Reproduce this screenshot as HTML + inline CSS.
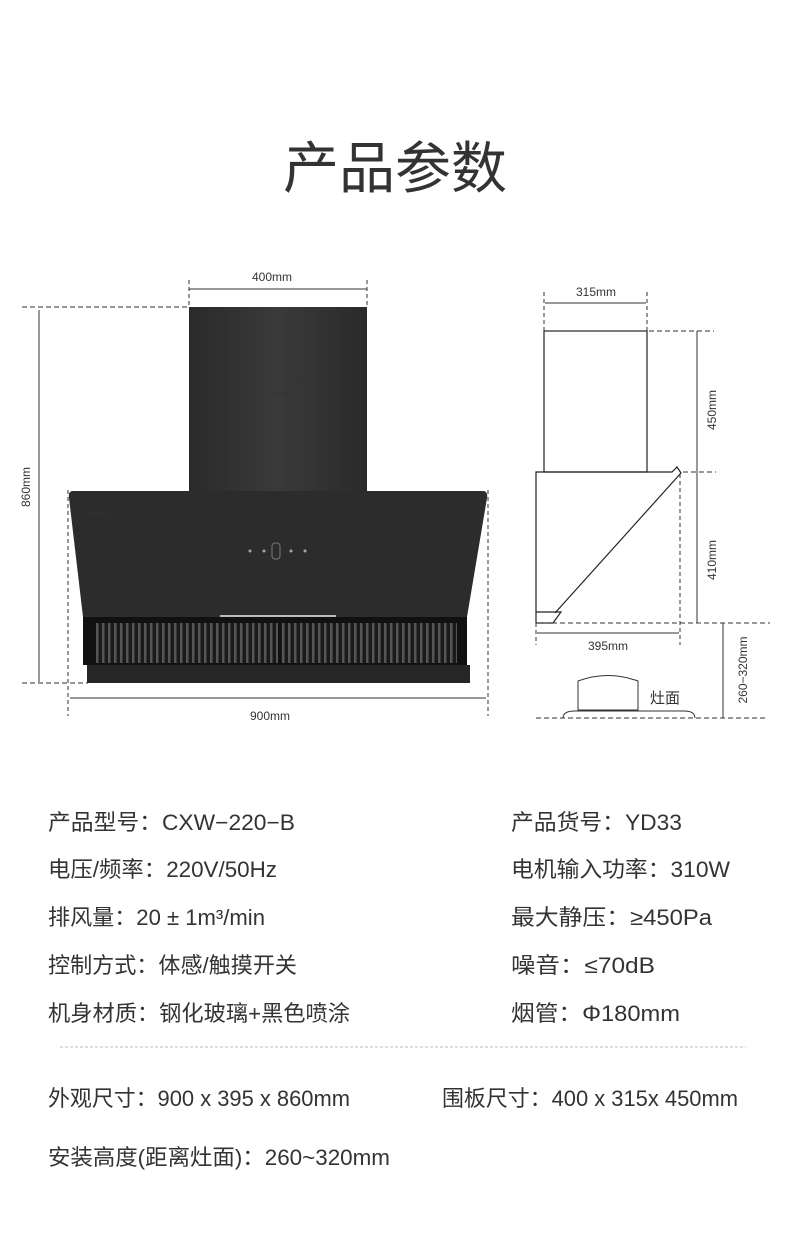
<!DOCTYPE html>
<html><head><meta charset="utf-8"><style>
html,body{margin:0;padding:0;background:#fff;}
svg{display:block;}
text{font-family:"Liberation Sans","Noto Sans CJK SC",sans-serif;fill:#333;}
</style></head><body>
<svg width="790" height="1243" viewBox="0 0 790 1243" xmlns="http://www.w3.org/2000/svg">
<defs>
<linearGradient id="g1" x1="0" y1="0" x2="1" y2="0"><stop offset="0" stop-color="#2a2a2a"/><stop offset="0.5" stop-color="#3a3a3a"/><stop offset="1" stop-color="#2a2a2a"/></linearGradient>
<pattern id="slat" width="6" height="40" patternUnits="userSpaceOnUse"><rect width="6" height="40" fill="#1a1a1a"/><rect x="0" width="2.5" height="40" fill="#555"/></pattern>
</defs>
<text x="395" y="188" font-size="56" text-anchor="middle" fill="#222">产品参数</text>

<!-- front view dims -->
<g stroke="#333" stroke-width="1" fill="none">
<line x1="189" y1="289" x2="367" y2="289"/>
<line x1="189" y1="280" x2="189" y2="307" stroke-dasharray="4,3"/>
<line x1="367" y1="280" x2="367" y2="307" stroke-dasharray="4,3"/>
<line x1="22" y1="307" x2="189" y2="307" stroke-dasharray="5,3"/>
<line x1="22" y1="683" x2="88" y2="683" stroke-dasharray="5,3"/>
<line x1="39" y1="310" x2="39" y2="682"/>
<line x1="68" y1="490" x2="68" y2="716" stroke-dasharray="4,3"/>
<line x1="488" y1="490" x2="488" y2="716" stroke-dasharray="4,3"/>
<line x1="70" y1="698" x2="486" y2="698"/>
</g>
<text x="272" y="281" font-size="12" text-anchor="middle">400mm</text>
<text x="270" y="720" font-size="12" text-anchor="middle">900mm</text>
<text transform="translate(30,487) rotate(-90)" font-size="12" text-anchor="middle">860mm</text>

<!-- hood -->
<rect x="189" y="307" width="178" height="186" fill="url(#g1)"/>
<text x="280" y="397" font-size="7" fill="#bbb" text-anchor="middle">YOUJIA</text>
<path d="M72 491 L484 491 Q488 492 487 498 L467 617 L83 617 L69 498 Q68 492 72 491 Z" fill="#2c2c2c"/>
<text x="88" y="516" font-size="6" fill="#ccc">YOUJIA</text>
<g fill="#9ab">
<circle cx="250" cy="551" r="1.5"/><circle cx="264" cy="551" r="1.5"/><rect x="272" y="543" width="8" height="16" rx="3" fill="none" stroke="#777"/><circle cx="291" cy="551" r="1.5"/><circle cx="305" cy="551" r="1.5"/>
</g>
<rect x="220" y="615" width="116" height="3" fill="#bbb"/>
<rect x="83" y="617" width="384" height="48" fill="#111"/>
<rect x="96" y="623" width="182" height="40" fill="url(#slat)"/>
<rect x="281" y="623" width="176" height="40" fill="url(#slat)"/>
<rect x="87" y="665" width="383" height="18" fill="#262626"/>

<!-- side view -->
<g stroke="#222" stroke-width="1.2" fill="none">
<rect x="544" y="331" width="103" height="141"/>
<path d="M536 623 L536 472 L672 472 L677 467 L681 473 L555 613"/>
<path d="M536 612 L561 612 L553 623 L536 623"/>
</g>
<g stroke="#333" stroke-width="1" fill="none">
<line x1="544" y1="292" x2="544" y2="331" stroke-dasharray="4,3"/>
<line x1="647" y1="292" x2="647" y2="331" stroke-dasharray="4,3"/>
<line x1="545" y1="303" x2="646" y2="303"/>
<line x1="649" y1="331" x2="714" y2="331" stroke-dasharray="5,3"/>
<line x1="683" y1="472" x2="716" y2="472" stroke-dasharray="5,3"/>
<line x1="697" y1="331" x2="697" y2="623"/>
<line x1="536" y1="623" x2="770" y2="623" stroke-dasharray="5,3"/>
<line x1="680" y1="474" x2="680" y2="645" stroke-dasharray="4,3"/>
<line x1="536" y1="623" x2="536" y2="645" stroke-dasharray="4,3"/>
<line x1="537" y1="633" x2="679" y2="633"/>
<line x1="723" y1="623" x2="723" y2="718"/>
<line x1="536" y1="718" x2="766" y2="718" stroke-dasharray="5,3"/>
<path d="M578 710 L578 681 Q608 670 638 681 L638 710 Z"/>
<path d="M563 718 Q563 711 575 711 L684 711 Q695 711 695 718"/>
</g>
<text x="596" y="296" font-size="12" text-anchor="middle">315mm</text>
<text x="608" y="650" font-size="12" text-anchor="middle">395mm</text>
<text transform="translate(716,410) rotate(-90)" font-size="12" text-anchor="middle">450mm</text>
<text transform="translate(716,560) rotate(-90)" font-size="12" text-anchor="middle">410mm</text>
<text transform="translate(747,670) rotate(-90)" font-size="12" text-anchor="middle">260−320mm</text>
<text x="650" y="703" font-size="15">灶面</text>

<!-- spec text -->
<g font-size="22">
<text x="48" y="830" textLength="247" lengthAdjust="spacingAndGlyphs">产品型号：CXW−220−B</text>
<text x="511" y="830" textLength="171" lengthAdjust="spacingAndGlyphs">产品货号：YD33</text>
<text x="48" y="877" textLength="229" lengthAdjust="spacingAndGlyphs">电压/频率：220V/50Hz</text>
<text x="511" y="877" textLength="219" lengthAdjust="spacingAndGlyphs">电机输入功率：310W</text>
<text x="48" y="925" textLength="217" lengthAdjust="spacingAndGlyphs">排风量：20 ± 1m³/min</text>
<text x="511" y="925" textLength="201" lengthAdjust="spacingAndGlyphs">最大静压：≥450Pa</text>
<text x="48" y="973" textLength="249" lengthAdjust="spacingAndGlyphs">控制方式：体感/触摸开关</text>
<text x="511" y="973" textLength="144" lengthAdjust="spacingAndGlyphs">噪音：≤70dB</text>
<text x="48" y="1021" textLength="302" lengthAdjust="spacingAndGlyphs">机身材质：钢化玻璃+黑色喷涂</text>
<text x="511" y="1021" textLength="169" lengthAdjust="spacingAndGlyphs">烟管：Φ180mm</text>
<text x="48" y="1106" textLength="302" lengthAdjust="spacingAndGlyphs">外观尺寸：900 x 395 x 860mm</text>
<text x="442" y="1106" textLength="296" lengthAdjust="spacingAndGlyphs">围板尺寸：400 x 315x 450mm</text>
<text x="48" y="1165" textLength="342" lengthAdjust="spacingAndGlyphs">安装高度(距离灶面)：260~320mm</text>
</g>
<line x1="60" y1="1047" x2="746" y2="1047" stroke="#bbb" stroke-width="1" stroke-dasharray="3,2"/>
</svg>
</body></html>
